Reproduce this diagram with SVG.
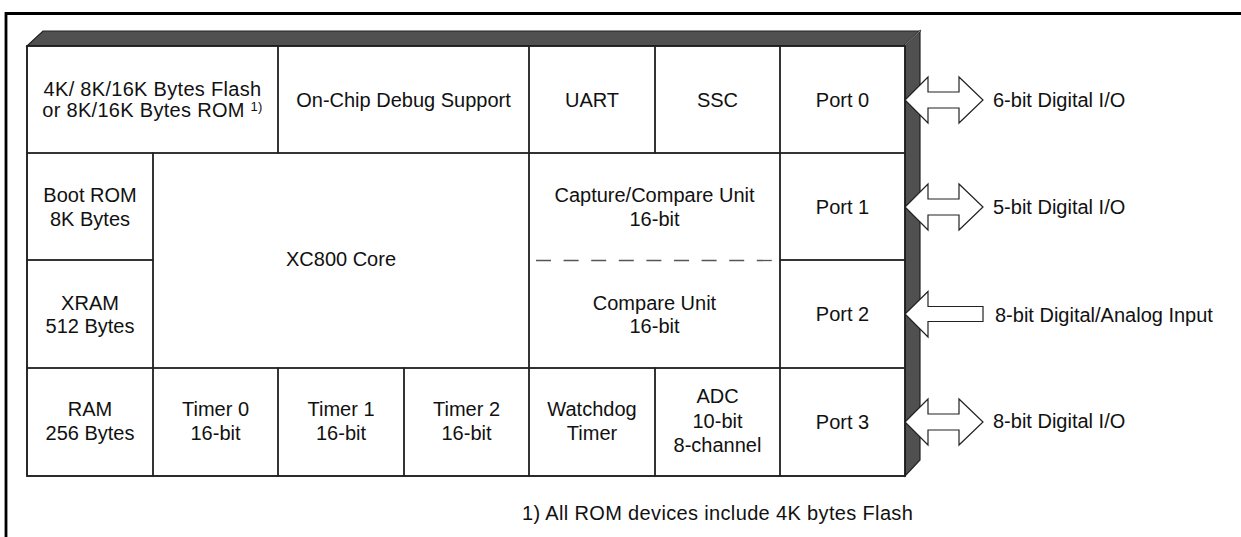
<svg xmlns="http://www.w3.org/2000/svg" width="1241" height="537" viewBox="0 0 1241 537">
<style>
text{font-family:"Liberation Sans",Arial,sans-serif;font-size:20px;fill:#111;text-anchor:middle}
.cell{fill:none;stroke:#222;stroke-width:1.4}
.arrow{fill:#fff;stroke:#222;stroke-width:1.2;stroke-linejoin:miter}
.lbl{text-anchor:start}
.sp{letter-spacing:0.3px}
.sup{font-size:13px}
</style>
<rect width="1241" height="537" fill="#fff"/>
<path d="M6,537 V13.5 H1241" fill="none" stroke="#000" stroke-width="2.8"/>
<g id="chip">
<polygon points="27,46 43,31 920,31 904,46" fill="#505050" stroke="#222" stroke-width="1.2"/>
<polygon points="904,46 920,31 920,460 905,476" fill="#505050" stroke="#222" stroke-width="1.2"/>
<line x1="904" y1="46" x2="920" y2="31" stroke="#888" stroke-width="1"/>
<rect x="27" y="46" width="878" height="430" fill="#fff" stroke="#111" stroke-width="1.6"/>
</g>
<g id="flash"><rect class="cell" x="27" y="46" width="251" height="107"/>
<text class="sp" x="152.5" y="96">4K/ 8K/16K Bytes Flash</text>
<text class="sp" x="152.5" y="117">or 8K/16K Bytes ROM <tspan class="sup" dy="-6">1)</tspan></text></g>
<g id="ocds"><rect class="cell" x="278" y="46" width="251" height="107"/><text x="403.5" y="107">On-Chip Debug Support</text></g>
<g id="uart"><rect class="cell" x="529" y="46" width="126" height="107"/><text x="592" y="107">UART</text></g>
<g id="ssc"><rect class="cell" x="655" y="46" width="125" height="107"/><text x="717.5" y="107">SSC</text></g>
<g id="port0"><rect class="cell" x="780" y="46" width="125" height="107"/><text x="842.5" y="107">Port 0</text></g>
<g id="bootrom"><rect class="cell" x="27" y="153" width="126" height="107"/><text x="90" y="202">Boot ROM</text><text x="90" y="225.5">8K Bytes</text></g>
<g id="xram"><rect class="cell" x="27" y="260" width="126" height="108"/><text x="90" y="309.5">XRAM</text><text x="90" y="333">512 Bytes</text></g>
<g id="core"><rect class="cell" x="153" y="153" width="376" height="215"/><text x="341" y="266">XC800 Core</text></g>
<g id="ccu"><path class="cell" d="M529,260 V153 H780 V260"/><text x="654.5" y="202">Capture/Compare Unit</text><text x="654.5" y="225.7">16-bit</text></g>
<g id="cu"><path class="cell" d="M529,260 V368 H780 V260"/><text x="654.5" y="309.5">Compare Unit</text><text x="654.5" y="333">16-bit</text></g>
<line x1="536" y1="260.5" x2="773" y2="260.5" stroke="#555" stroke-width="1.3" stroke-dasharray="15 12.6"/>
<g id="port1"><rect class="cell" x="780" y="153" width="125" height="107"/><text x="842.5" y="214">Port 1</text></g>
<g id="port2"><rect class="cell" x="780" y="260" width="125" height="108"/><text x="842.5" y="321">Port 2</text></g>
<g id="ram"><rect class="cell" x="27" y="368" width="126" height="108"/><text x="90" y="416">RAM</text><text x="90" y="440">256 Bytes</text></g>
<g id="timer0"><rect class="cell" x="153" y="368" width="125" height="108"/><text x="215.5" y="416">Timer 0</text><text x="215.5" y="440">16-bit</text></g>
<g id="timer1"><rect class="cell" x="278" y="368" width="126" height="108"/><text x="341" y="416">Timer 1</text><text x="341" y="440">16-bit</text></g>
<g id="timer2"><rect class="cell" x="404" y="368" width="125" height="108"/><text x="466.5" y="416">Timer 2</text><text x="466.5" y="440">16-bit</text></g>
<g id="wdt"><rect class="cell" x="529" y="368" width="126" height="108"/><text x="592" y="416">Watchdog</text><text x="592" y="440">Timer</text></g>
<g id="adc"><rect class="cell" x="655" y="368" width="125" height="108"/><text x="717.5" y="403">ADC</text><text x="717.5" y="428">10-bit</text><text x="717.5" y="452">8-channel</text></g>
<g id="port3"><rect class="cell" x="780" y="368" width="125" height="108"/><text x="842.5" y="429">Port 3</text></g>
<g id="connectors">
<polygon class="arrow" points="905,100 928,77 928,92 959,92 959,77 983,100 959,123 959,108 928,108 928,123"/>
<polygon class="arrow" points="905,207 928,184 928,199 959,199 959,184 983,207 959,230 959,215 928,215 928,230"/>
<polygon class="arrow" points="905,314 928,291.5 928,306.5 983,306.5 983,321.5 928,321.5 928,337"/>
<polygon class="arrow" points="905,422 928,399 928,414 959,414 959,399 983,422 959,445 959,430 928,430 928,445"/>
</g>
<g id="labels">
<text class="lbl" x="993" y="107">6-bit Digital I/O</text>
<text class="lbl" x="993" y="214">5-bit Digital I/O</text>
<text class="lbl" x="995" y="321.5">8-bit Digital/Analog Input</text>
<text class="lbl" x="993" y="428">8-bit Digital I/O</text>
</g>
<g id="footnote"><text class="lbl sp" x="522" y="520" style="letter-spacing:0.35px">1) All ROM devices include 4K bytes Flash</text></g>
</svg>
